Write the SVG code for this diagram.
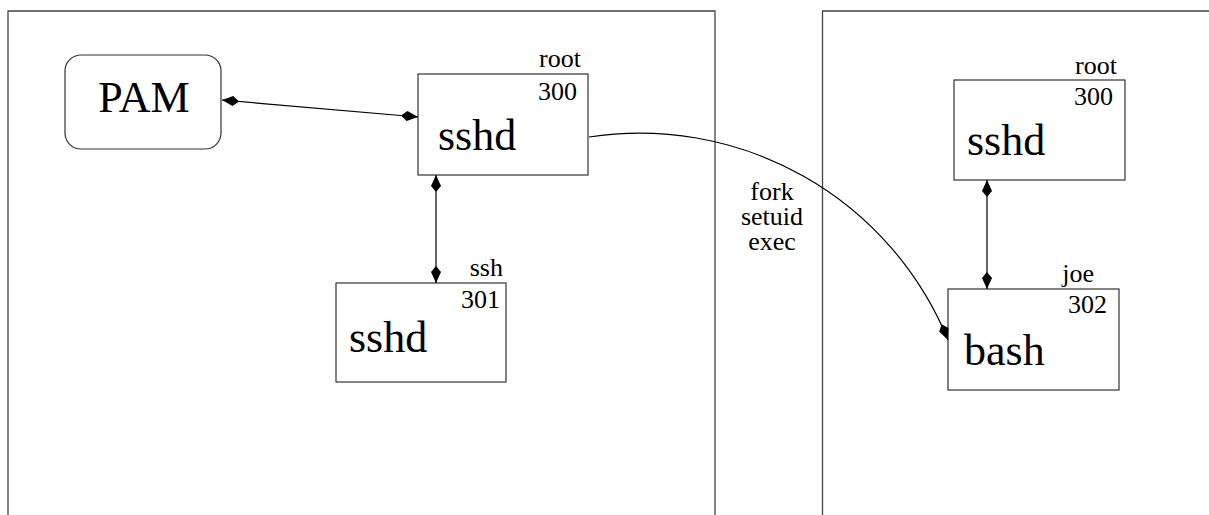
<svg xmlns="http://www.w3.org/2000/svg" width="1209" height="515" viewBox="0 0 1209 515">
<style>
.frame{fill:none;stroke:#444;stroke-width:1.3}
.box{fill:#fff;stroke:#333;stroke-width:1.2}
.conn{fill:none;stroke:#000;stroke-width:1.2}
text{font-family:'Liberation Serif','Times New Roman',serif;fill:#000}
.big{font-size:44px}
.small{font-size:26px}
</style>
<defs>
<marker id="dia" viewBox="-18 -6 20 12" refX="0" refY="0" markerWidth="20" markerHeight="12" markerUnits="userSpaceOnUse" orient="auto-start-reverse">
<path d="M0,0 L-11,-5 L-17,0 L-11,5 z" fill="#000"/>
</marker>
</defs>
<g id="frames">
<path class="frame" d="M8,515 V11 H715 V515"/>
<path class="frame" d="M822.5,515 V11 H1209"/>
</g>
<g id="pam">
<rect class="box" x="65" y="55" width="156" height="94" rx="16" ry="16"/>
<text class="big" x="144" y="112" text-anchor="middle">PAM</text>
</g>
<g id="sshd-300-left">
<rect class="box" x="418" y="74" width="170" height="101"/>
<text class="small" x="581" y="67" text-anchor="end">root</text>
<text class="small" x="577" y="100" text-anchor="end">300</text>
<text class="big" x="438" y="150">sshd</text>
</g>
<g id="sshd-301">
<rect class="box" x="336" y="283" width="170" height="99"/>
<text class="small" x="503" y="276" text-anchor="end">ssh</text>
<text class="small" x="500" y="308" text-anchor="end">301</text>
<text class="big" x="349" y="352">sshd</text>
</g>
<g id="sshd-300-right">
<rect class="box" x="954" y="80" width="171" height="100"/>
<text class="small" x="1117" y="74" text-anchor="end">root</text>
<text class="small" x="1113" y="105" text-anchor="end">300</text>
<text class="big" x="967" y="155">sshd</text>
</g>
<g id="bash-302">
<rect class="box" x="948" y="289" width="171" height="101"/>
<text class="small" x="1094" y="282" text-anchor="end">joe</text>
<text class="small" x="1107" y="313" text-anchor="end">302</text>
<text class="big" x="964" y="365">bash</text>
</g>
<g id="connectors">
<line class="conn" x1="222" y1="100" x2="418" y2="117" marker-start="url(#dia)" marker-end="url(#dia)"/>
<line class="conn" x1="436" y1="175" x2="436" y2="283" marker-start="url(#dia)" marker-end="url(#dia)"/>
<line class="conn" x1="987" y1="180" x2="987" y2="289" marker-start="url(#dia)" marker-end="url(#dia)"/>
<path class="conn" d="M589,137 A333,333 0 0,1 948,340" marker-end="url(#dia)"/>
<text class="small" x="772" y="200" text-anchor="middle">fork</text>
<text class="small" x="772" y="225" text-anchor="middle">setuid</text>
<text class="small" x="772" y="250" text-anchor="middle">exec</text>
</g>
</svg>
